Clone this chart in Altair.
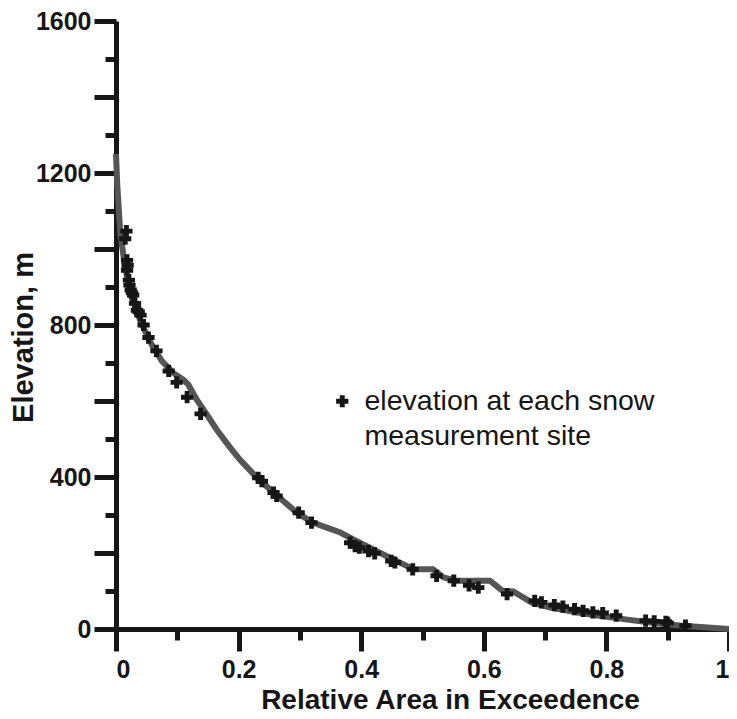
import altair as alt
import pandas as pd

# Hypsometric curve (relative area in exceedence vs elevation)
curve_x = [0, 0.002, 0.007, 0.0125, 0.018, 0.023, 0.029, 0.040, 0.050, 0.061, 0.075, 0.094,
           0.110, 0.118, 0.132, 0.150, 0.164, 0.185, 0.202, 0.230, 0.257, 0.295, 0.321, 0.345,
           0.366, 0.387, 0.414, 0.441, 0.474, 0.485, 0.517, 0.534, 0.555, 0.610, 0.620, 0.631,
           0.648, 0.678, 0.707, 0.751, 0.783, 0.837, 0.892, 0.919, 1.0]
curve_y = [1250, 1170, 1040, 979, 927, 883, 857, 810, 775, 740, 705, 673,
           656, 643, 603, 560, 525, 480, 446, 398, 359, 306, 280, 266,
           254, 236, 214, 192, 166, 157, 157, 136, 127, 127, 114, 100,
           99, 70, 57, 44, 36, 24, 13, 9, 0]

# Snow measurement sites
site_x = [0.017, 0.015, 0.018, 0.019, 0.018, 0.021, 0.022, 0.024, 0.026, 0.028,
          0.031, 0.034, 0.037, 0.040, 0.045, 0.053, 0.066, 0.086, 0.099, 0.116,
          0.138, 0.232, 0.238, 0.257, 0.262, 0.298, 0.319, 0.382, 0.390, 0.397,
          0.412, 0.422, 0.449, 0.455, 0.484, 0.523, 0.551, 0.576, 0.591, 0.638,
          0.683, 0.694, 0.715, 0.729, 0.748, 0.762, 0.778, 0.794, 0.816, 0.864,
          0.878, 0.897, 0.900, 0.929]
site_y = [1047, 1027, 970, 957, 944, 918, 905, 892, 885, 879,
          857, 839, 835, 826, 800, 767, 732, 679, 649, 610,
          566, 398, 389, 359, 350, 306, 280, 227, 218, 214,
          205, 199, 179, 175, 157, 140, 127, 115, 109, 92,
          74, 70, 63, 59, 52, 48, 44, 42, 35, 22,
          20, 19, 16, 9]

legend_lines = ["elevation at each snow", "measurement site"]

# long (major) and short (minor) ticks
x_major = [0, 0.2, 0.4, 0.6, 0.8, 1.0]
x_minor = [0.1, 0.3, 0.5, 0.7, 0.9]
y_major = [0, 200, 400, 600, 800, 1000, 1200, 1400, 1600]
y_minor = [100, 300, 500, 700, 900, 1100, 1300, 1500]

curve_df = pd.DataFrame({"x": curve_x, "y": curve_y, "i": range(len(curve_x))})
site_df = pd.DataFrame({"x": site_x, "y": site_y, "s": legend_lines[0]})

FONT = "Liberation Sans"
INK = "#161616"

x_scale = alt.Scale(domain=[0, 1], nice=False, zero=False)
y_scale = alt.Scale(domain=[0, 1600], nice=False)

x_axis = alt.Axis(
    orient="bottom", title="Relative Area in Exceedence", values=x_major, format="~g",
    tickSize=22, labelPadding=6, titleFontSize=28,
    titleX=334, titleY=71, titleAlign="center", titleBaseline="middle",
)
y_axis = alt.Axis(
    orient="left", title="Elevation, m", values=y_major, format="d",
    labelExpr="datum.value % 400 === 0 ? datum.label : ''",
    tickSize=22, labelPadding=3, titleFontSize=29,
    titleX=-93, titleY=316, titleAlign="center", titleBaseline="middle",
)
x_axis_minor = alt.Axis(
    orient="bottom", title=None, values=x_minor, labels=False, domain=False, tickSize=11,
)
y_axis_minor = alt.Axis(
    orient="left", title=None, values=y_minor, labels=False, domain=False, tickSize=11,
)

line = alt.Chart(curve_df).mark_line(color="#555555", strokeWidth=6).encode(
    x=alt.X("x:Q", scale=x_scale, axis=x_axis),
    y=alt.Y("y:Q", scale=y_scale, axis=y_axis),
    order="i:Q",
)

points = alt.Chart(site_df).mark_point(shape="cross", filled=True, size=150, opacity=1).encode(
    x=alt.X("x:Q", scale=x_scale, axis=x_axis_minor),
    y=alt.Y("y:Q", scale=y_scale, axis=y_axis_minor),
    color=alt.Color(
        "s:N",
        scale=alt.Scale(domain=legend_lines, range=[INK, "transparent"]),
        legend=alt.Legend(
            title=None, orient="none", legendX=212, legendY=366, padding=0,
            symbolType="cross", symbolSize=150, labelFontSize=28.5, labelFont=FONT,
            labelColor=INK, labelOffset=8, rowPadding=6, labelLimit=400,
        ),
    ),
)

chart = alt.layer(line, points).resolve_axis(
    x="independent", y="independent"
).properties(
    width=613, height=608,
    autosize=alt.AutoSizeParams(type="none"),
    padding={"left": 108, "top": 13, "right": 0, "bottom": 90},
    background="white",
).configure_view(stroke=None).configure_axis(
    grid=False, domainColor=INK, domainWidth=5, tickColor=INK, tickWidth=5,
    labelFont=FONT, labelFontSize=25, labelFontWeight="bold", labelColor=INK,
    titleFont=FONT, titleFontWeight="bold", titleColor=INK,
)

chart.save("out.html", embed_options={"renderer": "svg", "actions": False})
